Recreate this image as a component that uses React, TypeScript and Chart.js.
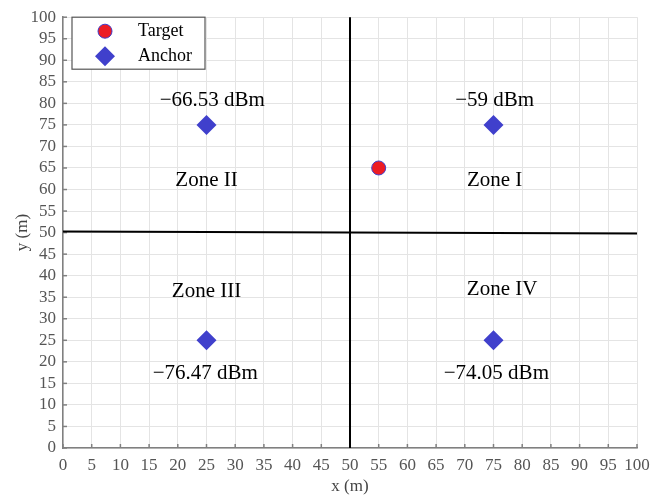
import React, { useEffect, useRef } from "react";
import { Chart, registerables } from "chart.js";

Chart.register(...registerables);

// Data
const targetX = [55];
const targetY = [65];
const anchorX = [25, 75, 25, 75];
const anchorY = [75, 75, 25, 25];
const tickValues = [0, 5, 10, 15, 20, 25, 30, 35, 40, 45, 50, 55, 60, 65, 70, 75, 80, 85, 90, 95, 100];
const labelTexts = ["−66.53 dBm", "−59 dBm", "Zone II", "Zone I", "Zone III", "Zone IV", "−76.47 dBm", "−74.05 dBm"];
const labelX = [26, 75.2, 25, 75.2, 25, 76.5, 24.8, 75.5];
const labelY = [80.7, 80.7, 62.2, 62.2, 36.4, 36.9, 17.4, 17.4];
const legendNames = ["Target", "Anchor"];

const FONT = "'Liberation Serif', 'DejaVu Serif', serif";
const RED = "#ec1c24";
const BLUE = "#4040cc";

const overlay = {
  id: "overlay",
  afterDatasetsDraw(chart: any) {
    const { ctx, chartArea: a, scales } = chart;
    const xs = scales.x, ys = scales.y;
    ctx.save();
    // inward ticks
    ctx.strokeStyle = "#808080";
    ctx.lineWidth = 1.5;
    tickValues.forEach((v) => {
      const px = xs.getPixelForValue(v);
      ctx.beginPath(); ctx.moveTo(px, a.bottom); ctx.lineTo(px, a.bottom - 4); ctx.stroke();
      const py = ys.getPixelForValue(v);
      ctx.beginPath(); ctx.moveTo(a.left, py); ctx.lineTo(a.left + 4, py); ctx.stroke();
    });
    // quadrant lines
    ctx.strokeStyle = "#000";
    ctx.lineWidth = 2;
    const cx = xs.getPixelForValue(50), cy = ys.getPixelForValue(50);
    ctx.beginPath(); ctx.moveTo(cx, a.top); ctx.lineTo(cx, a.bottom); ctx.stroke();
    ctx.beginPath(); ctx.moveTo(a.left, cy - 1); ctx.lineTo(a.right, cy + 1); ctx.stroke();
    // annotations
    ctx.fillStyle = "#000";
    ctx.font = `21px ${FONT}`;
    ctx.textAlign = "center";
    ctx.textBaseline = "middle";
    labelTexts.forEach((t, i) => {
      ctx.fillText(t, xs.getPixelForValue(labelX[i]), ys.getPixelForValue(labelY[i]));
    });
    // legend box
    const lx = a.left + 9, ly = a.top, lw = 133, lh = 52;
    ctx.fillStyle = "#fff";
    ctx.fillRect(lx, ly, lw, lh);
    ctx.strokeStyle = "#555";
    ctx.lineWidth = 1.2;
    ctx.strokeRect(lx, ly, lw, lh);
    // target marker
    ctx.beginPath();
    ctx.arc(lx + 33, ly + 14, 7, 0, Math.PI * 2);
    ctx.fillStyle = RED; ctx.fill();
    ctx.strokeStyle = BLUE; ctx.lineWidth = 1; ctx.stroke();
    // anchor marker
    const dx = lx + 33, dy = ly + 39;
    ctx.beginPath();
    ctx.moveTo(dx, dy - 10); ctx.lineTo(dx + 10, dy); ctx.lineTo(dx, dy + 10); ctx.lineTo(dx - 10, dy); ctx.closePath();
    ctx.fillStyle = BLUE; ctx.fill();
    ctx.fillStyle = "#000";
    ctx.font = `18px ${FONT}`;
    ctx.textAlign = "left";
    ctx.fillText(legendNames[0], lx + 66, ly + 14);
    ctx.fillText(legendNames[1], lx + 66, ly + 39);
    ctx.restore();
  },
};

export default function App() {
  const ref = useRef<HTMLCanvasElement>(null);
  useEffect(() => {
    document.body.style.margin = "0";
    const chart = new Chart(ref.current!, {
      type: "scatter",
      data: {
        datasets: [
          {
            label: legendNames[0],
            data: targetX.map((x, i) => ({ x, y: targetY[i] })),
            pointStyle: "circle",
            pointRadius: 7,
            backgroundColor: RED,
            borderColor: BLUE,
            borderWidth: 1,
          },
          {
            label: legendNames[1],
            data: anchorX.map((x, i) => ({ x, y: anchorY[i] })),
            pointStyle: "rectRot",
            pointRadius: 10,
            backgroundColor: BLUE,
            borderColor: BLUE,
            borderWidth: 0,
          },
        ],
      },
      options: {
        animation: false,
        responsive: false,
        layout: { padding: { top: 17, right: 0, left: 0, bottom: 0 } },
        plugins: { legend: { display: false }, tooltip: { enabled: false } },
        scales: {
          x: {
            type: "linear",
            min: 0,
            max: 100,
            afterBuildTicks: (s: any) => { s.ticks = tickValues.map((v) => ({ value: v })); },
            afterFit: (s: any) => { s.height = 49; s.paddingRight = 13; },
            grid: { color: "#e4e4e4", lineWidth: 1, drawTicks: false },
            border: { color: "#808080", width: 1.5 },
            ticks: { color: "#555", font: { family: FONT, size: 17 }, padding: 7, maxRotation: 0, autoSkip: false },
            title: { display: true, text: "x (m)", color: "#444", font: { family: FONT, size: 17 }, padding: { top: 0, bottom: 0 } },
          },
          y: {
            type: "linear",
            min: 0,
            max: 100,
            afterBuildTicks: (s: any) => { s.ticks = tickValues.map((v) => ({ value: v })); },
            afterFit: (s: any) => { s.width = 63; },
            grid: { color: "#e4e4e4", lineWidth: 1, drawTicks: false },
            border: { color: "#808080", width: 1.5 },
            ticks: { color: "#555", font: { family: FONT, size: 17 }, padding: 7, autoSkip: false },
            title: { display: true, text: "y (m)", color: "#444", font: { family: FONT, size: 17 }, padding: { top: 12, bottom: 0 } },
          },
        },
      },
      plugins: [overlay],
    });
    return () => chart.destroy();
  }, []);
  return <canvas ref={ref} width={650} height={497} style={{ display: "block" }} />;
}
